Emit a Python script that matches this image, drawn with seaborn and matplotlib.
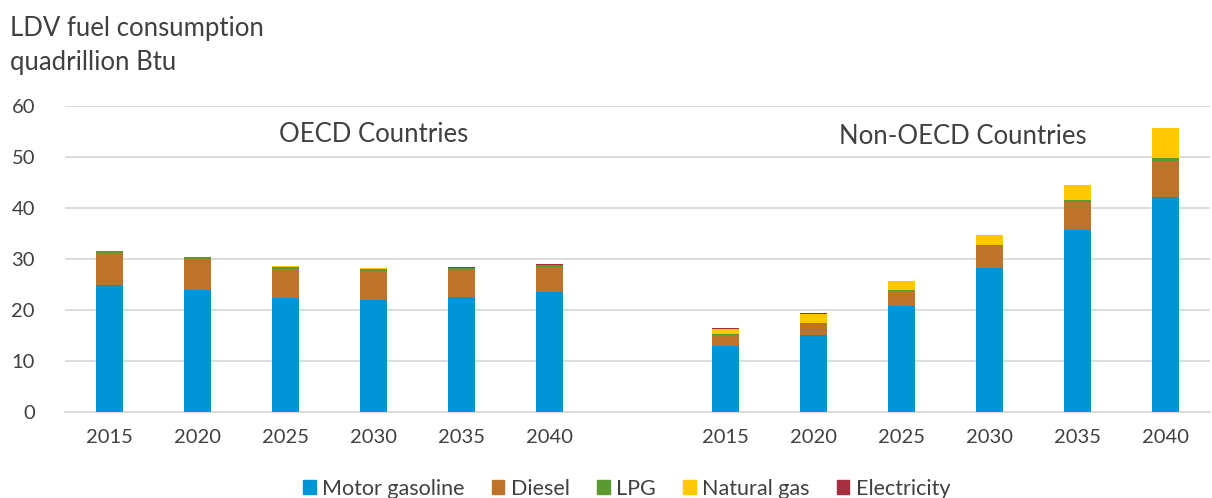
import pandas as pd
import matplotlib.pyplot as plt
import seaborn as sns
from matplotlib.patches import Patch

years = ['2015', '2020', '2025', '2030', '2035', '2040']
regions = ['OECD', 'Non-OECD']

# quadrillion Btu
gasoline_oecd = [24.9, 23.9, 22.4, 22.0, 22.5, 23.5]
diesel_oecd = [6.2, 6.0, 5.7, 5.7, 5.4, 4.9]
lpg_oecd = [0.4, 0.4, 0.4, 0.4, 0.3, 0.4]
natgas_oecd = [0.1, 0.1, 0.1, 0.1, 0.1, 0.1]
elec_oecd = [0.03, 0.03, 0.05, 0.05, 0.05, 0.05]

gasoline_non = [13.0, 15.1, 20.7, 28.3, 35.6, 42.2]
diesel_non = [2.0, 2.2, 3.0, 4.2, 5.5, 7.0]
lpg_non = [0.2, 0.2, 0.3, 0.3, 0.5, 0.7]
natgas_non = [1.1, 1.7, 1.6, 1.9, 2.9, 5.8]
elec_non = [0.1, 0.1, 0.05, 0.05, 0.05, 0.05]

fuels = ['Motor gasoline', 'Diesel', 'LPG', 'Natural gas', 'Electricity']
colors = ['#0096D6', '#BD732A', '#5A9A30', '#FFC800', '#A4303F']

rows = []
for region, series in [('OECD', [gasoline_oecd, diesel_oecd, lpg_oecd, natgas_oecd, elec_oecd]),
                       ('Non-OECD', [gasoline_non, diesel_non, lpg_non, natgas_non, elec_non])]:
    for i, yr in enumerate(years):
        total = 0
        for fuel, vals in zip(fuels, series):
            total += vals[i]
            rows.append([region + ' ' + yr, fuel, total])
df = pd.DataFrame(rows, columns=['cat', 'fuel', 'cum'])

order = ['OECD ' + y for y in years] + ['gap'] + ['Non-OECD ' + y for y in years]

sns.set_style("white")
plt.rcParams['font.family'] = ['Lato', 'DejaVu Sans']

fig, ax = plt.subplots(figsize=(12.12, 4.98), dpi=100)
fig.subplots_adjust(left=0.054, right=0.998, top=0.787, bottom=0.173)

# draw cumulative totals from top layer down so each layer shows
for fuel, col in reversed(list(zip(fuels, colors))):
    sns.barplot(data=df[df.fuel == fuel], x='cat', y='cum', order=order,
                color=col, saturation=1, width=0.31, linewidth=0, ax=ax, zorder=3)

ax.set_ylim(0, 60)
ax.set_yticks(range(0, 61, 10))
ax.grid(axis='y', color='#d9d9d9', linewidth=1.3, zorder=0)
ax.set_axisbelow(True)
for s in ['top', 'right', 'left']:
    ax.spines[s].set_visible(False)
ax.spines['bottom'].set_color('#d9d9d9')
ax.spines['bottom'].set_linewidth(1.3)
ax.set_xticks(range(len(order)))
ax.set_xticklabels(years + [''] + years)
ax.tick_params(axis='both', length=0, labelsize=14.5, labelcolor='#404040')
ax.tick_params(axis='x', pad=12)
ax.tick_params(axis='y', pad=22)
ax.set_xlabel('')
ax.set_ylabel('')
ax.set_xlim(-0.5, len(order) - 0.5)

ax.text(3.0, 54.5, 'OECD Countries', ha='center', va='center', fontsize=18.5, color='#404040')
ax.text(9.7, 54.0, 'Non-OECD Countries', ha='center', va='center', fontsize=18.5, color='#404040')

fig.text(0.008, 0.968, 'LDV fuel consumption\nquadrillion Btu', ha='left', va='top',
         fontsize=18.5, color='#404040', linespacing=1.45)

handles = [Patch(color=c) for c in colors]
fig.legend(handles, fuels, loc='lower center', ncol=5, frameon=False, fontsize=15.5,
           bbox_to_anchor=(0.517, -0.04), handlelength=0.6, handleheight=0.6,
           handletextpad=0.3, columnspacing=1.25, labelcolor='#404040')

plt.savefig('out.png', dpi=100)
